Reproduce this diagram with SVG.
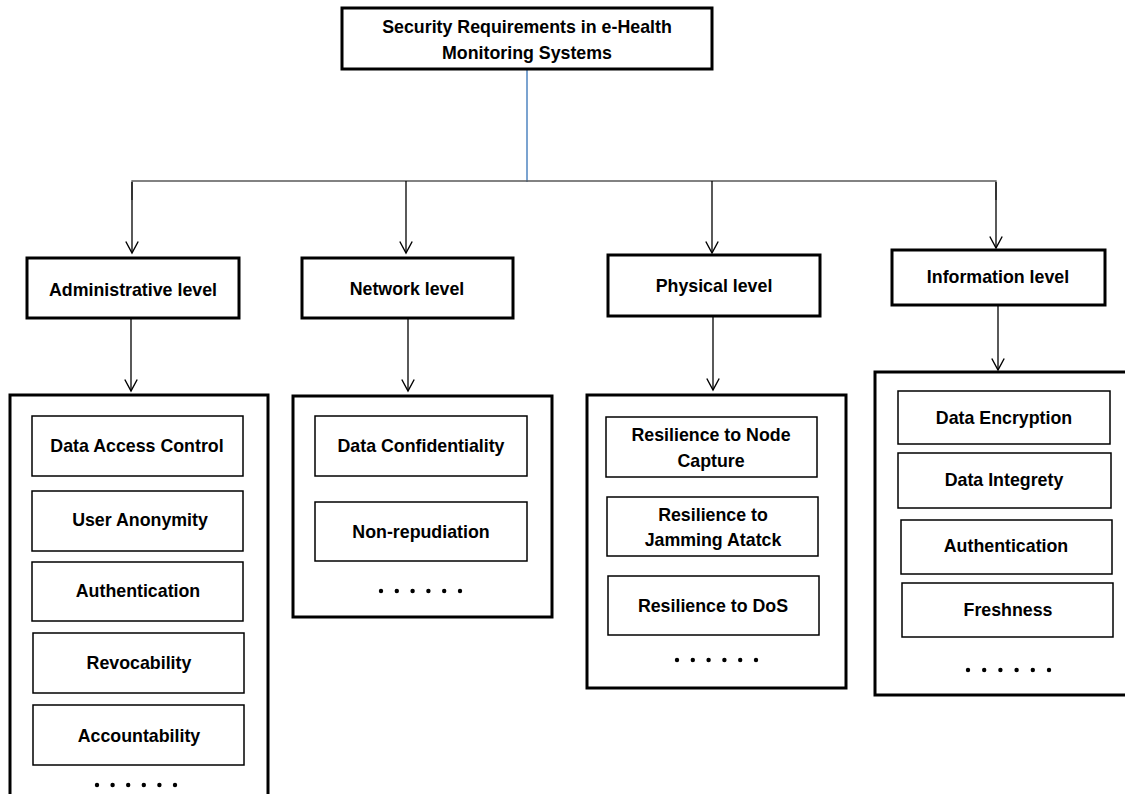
<svg xmlns="http://www.w3.org/2000/svg" width="1125" height="794" viewBox="0 0 1125 794">
  <style>
    text { font-family: "Liberation Sans", Arial, sans-serif; font-weight: bold; font-size: 17.8px; fill: #000; text-anchor: middle; dominant-baseline: central; }
    .main { fill: #fff; stroke: #000; stroke-width: 3; }
    .group { fill: #fff; stroke: #000; stroke-width: 3; }
    .item { fill: #fff; stroke: #000; stroke-width: 1.5; }
    .link { fill: none; stroke: #000; stroke-width: 1.3; }
    .bus { fill: none; stroke: #5a5a5a; stroke-width: 1.3; }
    .trunk { fill: none; stroke: #7ba3d0; stroke-width: 2; }
    .dot { fill: #000; }
  </style>
  <defs>
    <!-- open "V" head; drawn along +x so orient="auto" turns it with the line -->
    <marker id="open-arrow" viewBox="0 0 14 14" refX="12.5" refY="7" markerWidth="14" markerHeight="14" markerUnits="userSpaceOnUse" orient="auto">
      <path d="M1,0.8 L12.5,7 L1,13.2" fill="none" stroke="#000" stroke-width="1.4"/>
    </marker>
  </defs>
  <rect width="1125" height="794" fill="#fff"/>

  <!-- connectors -->
  <g id="connectors">
    <line class="trunk" x1="527" y1="69" x2="527" y2="182"/>
    <polyline class="bus" points="132,200 132,181 996,181 996,200"/>
    <line class="link" x1="132" y1="182" x2="132" y2="253" marker-end="url(#open-arrow)"/>
    <line class="link" x1="406" y1="181" x2="406" y2="253" marker-end="url(#open-arrow)"/>
    <line class="link" x1="712" y1="181" x2="712" y2="253" marker-end="url(#open-arrow)"/>
    <line class="link" x1="996" y1="182" x2="996" y2="248" marker-end="url(#open-arrow)"/>
    <line class="link" x1="131" y1="318" x2="131" y2="391" marker-end="url(#open-arrow)"/>
    <line class="link" x1="408" y1="318" x2="408" y2="391" marker-end="url(#open-arrow)"/>
    <line class="link" x1="713" y1="316" x2="713" y2="390" marker-end="url(#open-arrow)"/>
    <line class="link" x1="998" y1="305" x2="998" y2="370" marker-end="url(#open-arrow)"/>
  </g>

  <!-- root -->
  <g id="root">
    <rect class="main" x="342" y="8" width="370" height="61"/>
    <text x="527" y="27">Security Requirements in e-Health</text>
    <text x="527" y="53">Monitoring Systems</text>
  </g>

  <!-- level headers -->
  <g id="administrative-level">
    <rect class="main" x="27" y="258" width="212" height="60"/>
    <text x="133" y="290">Administrative level</text>
  </g>
  <g id="network-level">
    <rect class="main" x="302" y="258" width="211" height="60"/>
    <text x="407" y="289">Network level</text>
  </g>
  <g id="physical-level">
    <rect class="main" x="608" y="255" width="212" height="61"/>
    <text x="714" y="286">Physical level</text>
  </g>
  <g id="information-level">
    <rect class="main" x="892" y="250" width="213" height="55"/>
    <text x="998" y="277">Information level</text>
  </g>

  <!-- administrative requirements -->
  <g id="administrative-items">
    <rect class="group" x="10" y="395" width="258" height="420"/>
    <rect class="item" x="32" y="416" width="211" height="60"/>
    <text x="137" y="446">Data Access Control</text>
    <rect class="item" x="32" y="491" width="211" height="60"/>
    <text x="140" y="520">User Anonymity</text>
    <rect class="item" x="32" y="562" width="211" height="59"/>
    <text x="138" y="591">Authentication</text>
    <rect class="item" x="33" y="633" width="211" height="60"/>
    <text x="139" y="663">Revocability</text>
    <rect class="item" x="33" y="705" width="211" height="60"/>
    <text x="139" y="736">Accountability</text>
    <g class="dot">
      <circle cx="97" cy="785" r="2.2"/><circle cx="112.6" cy="785" r="2.2"/><circle cx="128.2" cy="785" r="2.2"/>
      <circle cx="143.8" cy="785" r="2.2"/><circle cx="159.4" cy="785" r="2.2"/><circle cx="175" cy="785" r="2.2"/>
    </g>
  </g>

  <!-- network requirements -->
  <g id="network-items">
    <rect class="group" x="293" y="396" width="259" height="221"/>
    <rect class="item" x="315" y="416" width="212" height="60"/>
    <text x="421" y="446">Data Confidentiality</text>
    <rect class="item" x="315" y="502" width="212" height="59"/>
    <text x="421" y="532">Non-repudiation</text>
    <g class="dot">
      <circle cx="381" cy="591" r="2.2"/><circle cx="396.8" cy="591" r="2.2"/><circle cx="412.6" cy="591" r="2.2"/>
      <circle cx="428.4" cy="591" r="2.2"/><circle cx="444.2" cy="591" r="2.2"/><circle cx="460" cy="591" r="2.2"/>
    </g>
  </g>

  <!-- physical requirements -->
  <g id="physical-items">
    <rect class="group" x="587" y="395" width="259" height="293"/>
    <rect class="item" x="606" y="417" width="211" height="60"/>
    <text x="711" y="435">Resilience to Node</text>
    <text x="711" y="461">Capture</text>
    <rect class="item" x="607" y="497" width="211" height="59"/>
    <text x="713" y="515">Resilience to</text>
    <text x="713" y="540">Jamming Atatck</text>
    <rect class="item" x="608" y="576" width="211" height="59"/>
    <text x="713" y="606">Resilience to DoS</text>
    <g class="dot">
      <circle cx="677" cy="660" r="2.2"/><circle cx="692.8" cy="660" r="2.2"/><circle cx="708.6" cy="660" r="2.2"/>
      <circle cx="724.4" cy="660" r="2.2"/><circle cx="740.2" cy="660" r="2.2"/><circle cx="756" cy="660" r="2.2"/>
    </g>
  </g>

  <!-- information requirements -->
  <g id="information-items">
    <rect class="group" x="875" y="372" width="270" height="323"/>
    <rect class="item" x="898" y="391" width="212" height="53"/>
    <text x="1004" y="418">Data Encryption</text>
    <rect class="item" x="898" y="453" width="213" height="55"/>
    <text x="1004" y="480">Data Integrety</text>
    <rect class="item" x="901" y="520" width="211" height="54"/>
    <text x="1006" y="546">Authentication</text>
    <rect class="item" x="902" y="583" width="211" height="54"/>
    <text x="1008" y="610">Freshness</text>
    <g class="dot">
      <circle cx="968" cy="670" r="2.2"/><circle cx="984.2" cy="670" r="2.2"/><circle cx="1000.4" cy="670" r="2.2"/>
      <circle cx="1016.6" cy="670" r="2.2"/><circle cx="1032.8" cy="670" r="2.2"/><circle cx="1049" cy="670" r="2.2"/>
    </g>
  </g>
</svg>
